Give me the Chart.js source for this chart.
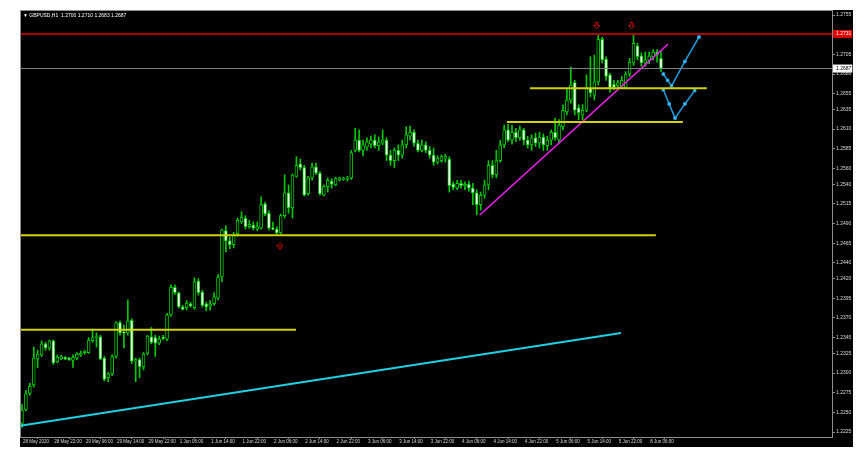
<!DOCTYPE html>
<html>
<head>
<meta charset="utf-8">
<script src="https://cdn.jsdelivr.net/npm/chart.js@4.4.0/dist/chart.umd.min.js"></script>
<style>
  html, body { margin: 0; padding: 0; background: #fff; }
  #wrap { position: absolute; left: 20px; top: 10px; width: 833px; height: 437px; background: #000; }
  #frame { position: absolute; left: 0; top: 0; width: 812px; height: 427px; box-sizing: border-box;
           border-left: 1px solid #8c8c8c; border-top: 1px solid #8c8c8c; pointer-events: none; }
</style>
</head>
<body>
<div id="wrap">
  <canvas id="chart" width="833" height="437"></canvas>
  <div id="frame"></div>
</div>
<script>
// GBPUSD H1, one bar per hour from 28 May 2020 14:00
const opens = [1.2236,1.2253,1.2274,1.2285,1.2318,1.2323,1.2337,1.2332,1.2341,1.2314,1.2318,1.2320,1.2319,1.2316,1.2319,1.2323,1.2326,1.2326,1.2341,1.2345,
  1.2346,1.2319,1.2294,1.2299,1.2321,1.2364,1.2352,1.2351,1.2367,1.2315,1.2317,1.2308,1.2325,1.2346,1.2345,1.2338,1.2345,1.2343,1.2374,1.2409,
  1.2402,1.2384,1.2383,1.2388,1.2383,1.2417,1.2403,1.2388,1.2385,1.2388,1.2395,1.2422,1.2481,1.2468,1.2463,1.2477,1.2492,1.2497,1.2486,1.2488,
  1.2483,1.2484,1.2515,1.2503,1.2484,1.2483,1.2478,1.2500,1.2529,1.2510,1.2550,1.2566,1.2561,1.2528,1.2548,1.2562,1.2554,1.2526,1.2537,1.2544,
  1.2539,1.2545,1.2546,1.2546,1.2548,1.2583,1.2596,1.2583,1.2587,1.2591,1.2596,1.2589,1.2592,1.2596,1.2577,1.2570,1.2583,1.2577,1.2590,1.2601,
  1.2606,1.2592,1.2583,1.2590,1.2583,1.2577,1.2568,1.2570,1.2573,1.2572,1.2540,1.2535,1.2541,1.2538,1.2540,1.2535,1.2529,1.2514,1.2526,1.2539,
  1.2564,1.2552,1.2570,1.2590,1.2609,1.2596,1.2606,1.2599,1.2609,1.2596,1.2590,1.2599,1.2592,1.2600,1.2589,1.2596,1.2606,1.2596,1.2613,1.2632,
  1.2647,1.2669,1.2637,1.2628,1.2634,1.2662,1.2653,1.2670,1.2724,1.2699,1.2679,1.2667,1.2665,1.2663,1.2663,1.2680,1.2694,1.2716,1.2703,1.2694,
  1.2697,1.2702,1.2708,1.2700];
const highs = [1.2260,1.2278,1.2287,1.2333,1.2329,1.2341,1.2339,1.2342,1.2342,1.2323,1.2323,1.2321,1.2320,1.2323,1.2326,1.2328,1.2329,1.2345,1.2356,1.2351,
  1.2348,1.2321,1.2301,1.2323,1.2365,1.2366,1.2361,1.2393,1.2369,1.2319,1.2319,1.2326,1.2348,1.2358,1.2348,1.2347,1.2348,1.2376,1.2412,1.2412,
  1.2403,1.2386,1.2392,1.2390,1.2421,1.2420,1.2405,1.2390,1.2392,1.2402,1.2425,1.2483,1.2487,1.2473,1.2479,1.2497,1.2505,1.2500,1.2494,1.2492,
  1.2492,1.2524,1.2517,1.2506,1.2492,1.2486,1.2502,1.2552,1.2539,1.2553,1.2575,1.2572,1.2564,1.2550,1.2567,1.2567,1.2556,1.2539,1.2548,1.2547,
  1.2549,1.2549,1.2549,1.2550,1.2583,1.2611,1.2609,1.2596,1.2599,1.2601,1.2603,1.2600,1.2609,1.2599,1.2583,1.2586,1.2590,1.2596,1.2613,1.2614,
  1.2609,1.2596,1.2596,1.2594,1.2588,1.2586,1.2576,1.2577,1.2578,1.2575,1.2543,1.2545,1.2545,1.2543,1.2544,1.2541,1.2533,1.2530,1.2545,1.2570,
  1.2570,1.2583,1.2596,1.2615,1.2616,1.2615,1.2611,1.2614,1.2611,1.2601,1.2603,1.2605,1.2606,1.2604,1.2601,1.2609,1.2624,1.2622,1.2641,1.2662,
  1.2689,1.2672,1.2641,1.2641,1.2679,1.2702,1.2704,1.2730,1.2727,1.2702,1.2681,1.2672,1.2672,1.2677,1.2683,1.2700,1.2730,1.2719,1.2707,1.2708,
  1.2708,1.2711,1.2711,1.2710];
const lows = [1.2231,1.2252,1.2272,1.2282,1.2307,1.2321,1.2329,1.2329,1.2311,1.2313,1.2317,1.2317,1.2316,1.2307,1.2317,1.2321,1.2324,1.2325,1.2339,1.2333,
  1.2317,1.2290,1.2289,1.2297,1.2319,1.2348,1.2332,1.2348,1.2312,1.2289,1.2294,1.2304,1.2323,1.2337,1.2321,1.2336,1.2342,1.2341,1.2372,1.2400,
  1.2383,1.2380,1.2380,1.2384,1.2381,1.2399,1.2384,1.2379,1.2380,1.2386,1.2393,1.2416,1.2454,1.2458,1.2459,1.2474,1.2490,1.2483,1.2484,1.2482,
  1.2481,1.2483,1.2500,1.2482,1.2482,1.2477,1.2477,1.2497,1.2503,1.2497,1.2549,1.2558,1.2525,1.2526,1.2545,1.2552,1.2526,1.2525,1.2530,1.2535,
  1.2538,1.2544,1.2545,1.2544,1.2546,1.2581,1.2581,1.2576,1.2583,1.2586,1.2586,1.2583,1.2590,1.2570,1.2564,1.2561,1.2570,1.2573,1.2586,1.2596,
  1.2588,1.2581,1.2581,1.2580,1.2573,1.2564,1.2566,1.2568,1.2568,1.2530,1.2533,1.2533,1.2535,1.2533,1.2531,1.2514,1.2501,1.2507,1.2522,1.2533,
  1.2548,1.2548,1.2568,1.2586,1.2594,1.2591,1.2594,1.2596,1.2590,1.2586,1.2583,1.2588,1.2586,1.2583,1.2583,1.2590,1.2596,1.2592,1.2609,1.2628,
  1.2643,1.2628,1.2622,1.2622,1.2632,1.2651,1.2647,1.2666,1.2694,1.2672,1.2657,1.2660,1.2662,1.2662,1.2662,1.2677,1.2691,1.2698,1.2690,1.2690,
  1.2693,1.2698,1.2695,1.2683];
const closes = [1.2253,1.2274,1.2283,1.2319,1.2324,1.2337,1.2332,1.2341,1.2313,1.2320,1.2321,1.2318,1.2317,1.2320,1.2324,1.2325,1.2328,1.2342,1.2345,1.2346,
  1.2318,1.2292,1.2299,1.2321,1.2364,1.2351,1.2351,1.2366,1.2315,1.2317,1.2308,1.2324,1.2347,1.2339,1.2338,1.2343,1.2344,1.2374,1.2409,1.2402,
  1.2384,1.2381,1.2389,1.2385,1.2416,1.2402,1.2386,1.2384,1.2388,1.2397,1.2422,1.2482,1.2468,1.2463,1.2475,1.2494,1.2498,1.2486,1.2489,1.2484,
  1.2486,1.2514,1.2502,1.2484,1.2483,1.2478,1.2500,1.2529,1.2510,1.2552,1.2564,1.2561,1.2526,1.2548,1.2562,1.2554,1.2528,1.2537,1.2545,1.2540,
  1.2547,1.2548,1.2548,1.2548,1.2580,1.2596,1.2583,1.2590,1.2594,1.2596,1.2589,1.2594,1.2596,1.2577,1.2570,1.2583,1.2577,1.2590,1.2603,1.2606,
  1.2592,1.2583,1.2590,1.2583,1.2577,1.2568,1.2573,1.2575,1.2575,1.2538,1.2536,1.2541,1.2538,1.2540,1.2535,1.2529,1.2514,1.2526,1.2539,1.2564,
  1.2552,1.2570,1.2590,1.2609,1.2596,1.2606,1.2599,1.2609,1.2596,1.2590,1.2599,1.2592,1.2600,1.2590,1.2596,1.2606,1.2599,1.2615,1.2634,1.2647,
  1.2666,1.2634,1.2631,1.2634,1.2662,1.2656,1.2670,1.2724,1.2698,1.2677,1.2662,1.2663,1.2669,1.2672,1.2680,1.2695,1.2719,1.2702,1.2694,1.2698,
  1.2703,1.2708,1.2704,1.2687];

const timeLabels = ['28 May 2020','28 May 22:00','29 May 06:00','29 May 14:00','29 May 22:00','1 Jun 06:00','1 Jun 14:00',
  '1 Jun 22:00','2 Jun 06:00','2 Jun 14:00','2 Jun 22:00','3 Jun 06:00','3 Jun 14:00','3 Jun 22:00','4 Jun 06:00',
  '4 Jun 14:00','4 Jun 22:00','5 Jun 06:00','5 Jun 14:00','5 Jun 22:00','8 Jun 06:00'];
const barsPerLabel = 8;
const priceTicks = [1.2755,1.2731,1.2705,1.2687,1.2680,1.2655,1.2635,1.2610,1.2585,1.2560,1.2540,1.2515,1.2490,
  1.2465,1.2440,1.2420,1.2395,1.2370,1.2345,1.2325,1.2300,1.2275,1.2250,1.2225];

const headerText = '\u25BC GBPUSD,H1  1.2700 1.2710 1.2683 1.2687';
const resistancePrice = 1.2731;
const bidPrice = 1.2687;

// yellow levels: price, from bar, to bar
const levelPrices = [1.2662, 1.2619, 1.2475, 1.2355];
const levelFrom = [129.6, 123.7, -0.5, -0.5];
const levelTo = [174.7, 168.6, 161.7, 69.9];

// trend lines [bar, price]
const cyanTrend = [[-0.5, 1.2233], [152.8, 1.2351]];
const magentaTrend = [[116.8, 1.2501], [164.8, 1.2718]];

// projected paths
const pathUpBars = [163.6, 164.7, 165.7, 169.1, 172.7];
const pathUpPrices = [1.2680, 1.2672, 1.2665, 1.2696, 1.2727];
const pathDownBars = [163.6, 165.1, 166.6, 169.1, 171.6];
const pathDownPrices = [1.2660, 1.2642, 1.2624, 1.2642, 1.2659];

// fractal arrows
const downArrowBars = [146.6, 155.5];
const downArrowPrices = [1.2741, 1.2741];
const upArrowBars = [65.8];
const upArrowPrices = [1.2461];

const xMin = -0.51, xMax = 206.63;
const yMin = 1.22187, yMax = 1.27614;

const GREEN = '#00c800';
const FONT = "'Liberation Sans', Arial, sans-serif";

function arrowImg(down){
  const c = document.createElement('canvas');
  c.width = 7; c.height = 8;
  const g = c.getContext('2d');
  let pts = [[2.5,0.5],[4.5,0.5],[4.5,3.5],[6.5,3.5],[3.5,6.5],[0.5,3.5],[2.5,3.5]];
  if(!down) pts = pts.map(p => [p[0], 7 - p[1]]);
  g.strokeStyle = '#d00000';
  g.lineWidth = 1;
  g.beginPath();
  pts.forEach((p, k) => k ? g.lineTo(p[0], p[1]) : g.moveTo(p[0], p[1]));
  g.closePath();
  g.stroke();
  return c;
}

const idx = opens.map((_, i) => i);
const wickData = idx.map(i => ({ x: i, y: [lows[i], highs[i]] }));
const bodyData = idx.map(i => ({ x: i, y: [opens[i], closes[i]] }));
const bodyFill = idx.map(i => closes[i] >= opens[i] ? '#000000' : '#ffffff');

function seg(x0, y0, x1, y1){ return [{ x: x0, y: y0 }, { x: x1, y: y1 }]; }
function lineSet(data, color, width, extra){
  return Object.assign({ type: 'line', data, borderColor: color, borderWidth: width,
    pointRadius: 0, fill: false, tension: 0, order: 1 }, extra || {});
}

const datasets = [
  { type: 'bar', data: wickData, backgroundColor: GREEN, barThickness: 1, grouped: false, order: 3 },
  { type: 'bar', data: bodyData, backgroundColor: bodyFill, borderColor: GREEN, borderWidth: 1,
    borderSkipped: false, barThickness: 3, minBarLength: 1, grouped: false, order: 2 },
  lineSet(seg(xMin, resistancePrice, xMax, resistancePrice), '#a80000', 2),
  lineSet(seg(xMin, bidPrice, xMax, bidPrice), '#808080', 1),
];
levelPrices.forEach((p, k) => {
  datasets.push(lineSet(seg(levelFrom[k], p, levelTo[k], p), '#d2d200', 2));
});
datasets.push(lineSet(seg(cyanTrend[0][0], cyanTrend[0][1], cyanTrend[1][0], cyanTrend[1][1]), '#20d0e0', 2));
datasets.push(lineSet(seg(magentaTrend[0][0], magentaTrend[0][1], magentaTrend[1][0], magentaTrend[1][1]), '#e020e0', 1.5));
[[pathUpBars, pathUpPrices], [pathDownBars, pathDownPrices]].forEach(([bx, py]) => {
  datasets.push(lineSet(bx.map((b, k) => ({ x: b, y: py[k] })), '#1e9ee0', 1.5, {
    pointRadius: 1.8, pointStyle: 'rect', pointBackgroundColor: '#60c8ff', pointBorderColor: '#1e9ee0', pointBorderWidth: 1
  }));
});
datasets.push({ type: 'line', showLine: false, order: 0,
  data: downArrowBars.map((b, k) => ({ x: b, y: downArrowPrices[k] })), pointStyle: arrowImg(true) });
datasets.push({ type: 'line', showLine: false, order: 0,
  data: upArrowBars.map((b, k) => ({ x: b, y: upArrowPrices[k] })), pointStyle: arrowImg(false) });

const headerPlugin = {
  id: 'header',
  afterDraw(chart){
    const { ctx, chartArea } = chart;
    ctx.save();
    ctx.fillStyle = '#ffffff';
    ctx.font = '5px ' + FONT;
    ctx.textBaseline = 'middle';
    ctx.fillText(headerText, chartArea.left + 3, chartArea.top + 5.5);
    ctx.restore();
  }
};

new Chart(document.getElementById('chart'), {
  type: 'bar',
  data: { datasets },
  plugins: [headerPlugin],
  options: {
    responsive: false,
    animation: false,
    layout: { padding: 0, autoPadding: false },
    plugins: { legend: { display: false }, tooltip: { enabled: false } },
    scales: {
      x: {
        type: 'linear', min: xMin, max: xMax, offset: false,
        afterBuildTicks: s => { s.ticks = timeLabels.map((_, k) => ({ value: k * barsPerLabel })); },
        afterFit: s => { s.height = 10; s.paddingLeft = 0; s.paddingRight = 0; },
        grid: { drawOnChartArea: false, tickLength: 2, color: '#8c8c8c' },
        border: { color: '#8c8c8c' },
        ticks: {
          color: '#d8d8d8', font: { family: FONT, size: 4.5 }, align: 'start', labelOffset: 1,
          maxRotation: 0, minRotation: 0, autoSkip: false, padding: 0,
          callback: (v, k) => timeLabels[k]
        }
      },
      y: {
        position: 'right', min: yMin, max: yMax,
        afterBuildTicks: s => { s.ticks = priceTicks.map(v => ({ value: v })); },
        afterFit: s => { s.width = 21; s.paddingTop = 0; s.paddingBottom = 0; },
        grid: { drawOnChartArea: false, tickLength: 3, color: '#8c8c8c' },
        border: { color: '#8c8c8c' },
        ticks: {
          font: { family: FONT, size: 5 }, padding: 1,
          color: c => c.tick && c.tick.value === resistancePrice ? '#ffffff' : (c.tick && c.tick.value === bidPrice ? '#000000' : '#d8d8d8'),
          showLabelBackdrop: true,
          backdropColor: c => c.tick && c.tick.value === resistancePrice ? '#e00000' : (c.tick && c.tick.value === bidPrice ? '#ffffff' : 'rgba(0,0,0,0)'),
          backdropPadding: { left: 3, right: 1, top: 1, bottom: 1 },
          callback: v => v.toFixed(4)
        }
      }
    }
  }
});
</script>
</body>
</html>
